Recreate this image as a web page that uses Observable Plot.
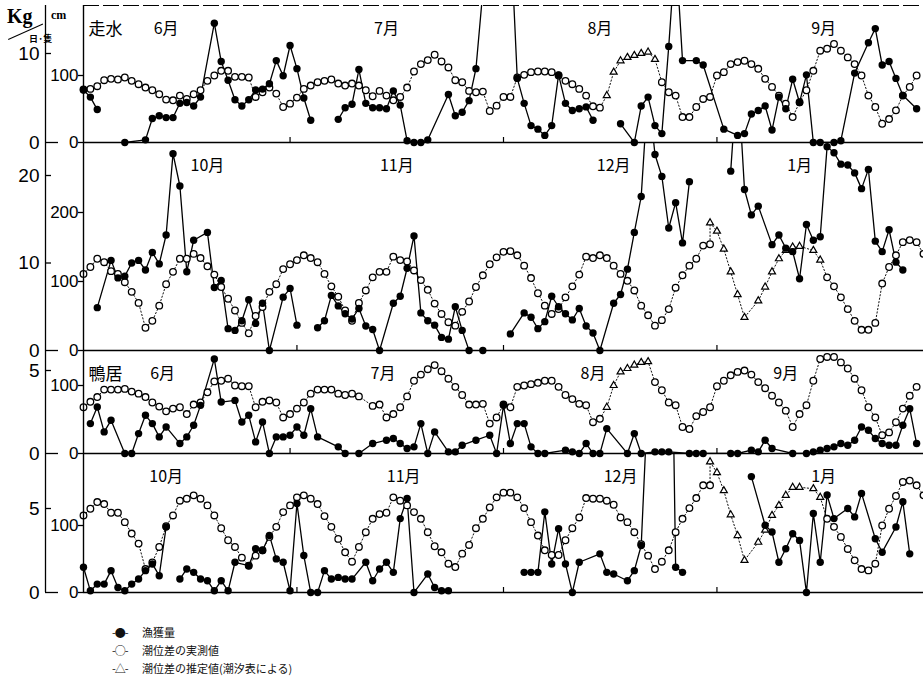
<!DOCTYPE html>
<html lang="ja">
<head>
<meta charset="utf-8">
<script src="https://cdn.jsdelivr.net/npm/d3@7"></script>
<script src="https://cdn.jsdelivr.net/npm/@observablehq/plot@0.6"></script>
<style>
html,body{margin:0;padding:0;background:#fff;}
#chart{position:relative;width:923px;height:677px;overflow:hidden;background:#fff;color:#000;}
.panel{position:absolute;left:0;}
.panel svg{overflow:visible;display:block;background:transparent;}
.lbl{position:absolute;white-space:nowrap;line-height:1;color:#000;}
.legend{position:absolute;left:112px;top:623px;font-family:"Noto Sans CJK JP",sans-serif;font-size:11px;line-height:18px;color:#111;}
</style>
</head>
<body>
<div id="chart"></div>
<script>
const _ = null;

// ---------- 走水 6月–9月 (day 0 = 6/1) ----------
const months1 = ["6月","7月","8月","9月"];
const monthX1 = [12, 44, 75, 107.5];
const monthStarts1 = [30, 61, 92];
const kgTicks1 = [0, 10];
const cmTicks1 = [0, 100];
const catch1 = [5.9,5.1,3.7,_,_,_,0,_,_,0.3,
 2.7,3.0,2.8,2.8,4.4,4.5,4.1,5.1,_,13.4,
 9.1,7.0,4.8,4.1,4.8,5.9,6.0,6.6,9.2,7.5,
 10.9,8.3,5.0,2.5,_,_,_,2.6,3.9,4.3,
 8.2,4.4,3.9,3.9,3.8,5.8,4.2,0.2,0,0,
 0.3,_,_,5.4,3.0,3.4,4.7,8.3,17,_,
 _,_,24,7.2,4.4,1.9,1.5,0.8,1.9,7.6,
 4.4,3.6,3.8,4.0,2.5,_,_,_,2.1,_,
 0,4.1,5.1,1.9,1.0,10.8,22,9.2,_,9.2,
 8.7,_,_,1.5,_,0.8,1.0,3.2,3.6,4.1,
 1.4,5.1,3.8,7.1,4.5,7.6,0,0,_,0,
 0.2,_,7.8,_,11.2,12.8,8.7,9.1,7.2,5.3,
 _,3.8];
const breaks1 = [6, 37, 78];
const tideObs1 = [79,80,84,93,95,94,97,92,87,82,
 78,72,64,63,70,65,72,78,92,100,
 107,107,98,98,97,68,75,82,73,53,
 58,67,80,85,90,92,94,88,85,88,
 85,78,69,77,70,63,68,82,106,117,
 123,131,121,112,93,90,77,75,76,47,
 55,68,68,97,101,105,106,106,105,100,
 92,87,80,70,54,52,_,_,_,_,
 _,_,_,_,90,75,70,38,38,53,
 65,68,100,105,117,120,122,117,110,95,
 83,70,58,38,60,78,107,137,140,147,
 137,127,117,100,70,53,28,35,48,70,
 83,100];
const estStart1 = 76;
const tideEst1 = [70,105,122,127,130,133,135,124];

// ---------- 走水 10月–1月 (day 0 = 10/1) ----------
const months2 = ["10月","11月","12月","1月"];
const monthX2 = [18, 45.5, 77, 104];
const monthStarts2 = [31, 61, 92];
const kgTicks2 = [0, 10, 20];
const cmTicks2 = [0, 100, 200];
const catch2 = [_,_,4.9,_,10.3,8.3,8.5,10.0,10.3,9.2,
 11.2,9.9,13.2,22.5,18.8,9.0,12.6,_,13.5,7.2,
 8.0,2.5,2.3,3.4,5.8,3.1,5.4,0,_,6.1,
 7.1,2.9,_,_,2.6,3.4,6.3,5.1,4.2,3.6,
 4.8,2.8,2.4,0,_,5.4,6.2,9.4,13.1,4.3,
 3.4,2.9,1.5,1.3,5.0,2.3,0,_,0,_,
 _,_,1.9,_,4.3,3.8,2.5,3.3,6.2,5.0,
 4.2,3.5,4.8,2.8,2.0,0,_,5.4,6.4,9.3,
 13.5,17.6,30,22.4,19.9,14.0,16.9,12.3,19.3,_,
 _,_,_,_,20.5,32,18.4,15.5,16.5,_,
 12.1,13.2,11.7,11.3,8.2,14.4,12.6,13.0,23.3,22.6,
 21.3,21.2,20.3,18.5,20.7,12.5,11.3,13.8,10.1,9.2,
 _,_,_];
const breaks2 = [34, 58, 62, 94];
const tideObs2 = [111,121,133,128,115,111,99,85,69,33,
 43,65,96,114,133,133,140,134,122,110,
 92,75,58,40,25,50,63,85,96,118,
 125,131,138,134,128,111,93,78,58,43,
 69,87,106,114,114,136,131,129,116,102,
 88,68,53,41,36,56,71,92,109,125,
 135,143,144,138,123,105,83,65,53,60,
 77,93,110,136,134,138,134,123,111,101,
 87,65,51,36,44,60,91,109,123,133,
 152,154,_,_,_,_,_,_,_,_,
 _,_,_,_,_,_,_,_,106,93,
 77,60,43,30,30,40,97,121,138,157,
 160,157,140];
const estStart2 = 91;
const tideEst2 = [185,173,147,114,81,48,_,72,92,114,133,145,150,151,_,145,131];

// ---------- 鴨居 6月–9月 ----------
const months3 = ["6月","7月","8月","9月"];
const monthX3 = [11.5, 43.5, 74, 102];
const monthStarts3 = [30, 61, 92];
const kgTicks3 = [0, 5];
const cmTicks3 = [0, 100];
const catch3 = [_,1.8,2.8,1.3,2.0,_,0,0,1.2,2.3,
 1.8,1.0,1.6,_,0.6,1.0,1.7,2.9,_,5.7,
 3.1,_,3.2,1.9,2.3,0.7,1.9,0,1.0,1.0,
 1.1,1.6,1.1,2.7,1.0,_,_,0.4,0,_,
 0,_,0.6,_,0.8,0.9,0.6,0.3,0.4,1.8,
 0,1.3,_,0.1,0.1,0.5,_,0.8,_,1.1,
 0,2.9,0.6,1.8,1.8,0.4,0,0,_,_,
 0.2,0.1,0,0.6,0,0,1.5,_,_,0,
 1.2,0,_,0.1,0.1,0.1,_,_,0,0,
 0,_,_,_,0,0,_,0.2,0.1,0.8,
 0.3,_,_,0,_,0,0.1,0.2,0.3,0.4,
 0.6,0.5,0.8,1.6,1.4,0.9,0.6,0.5,0.5,1.7,
 2.7,0.6];
const breaks3 = [];
const tideObs3 = [68,76,83,94,94,94,95,91,88,83,
 75,69,62,66,68,58,72,75,90,106,
 107,110,100,99,99,68,76,78,75,53,
 58,66,75,88,94,94,94,88,86,88,
 84,_,70,72,53,58,68,84,107,116,
 124,130,121,110,98,86,72,72,73,44,
 53,72,68,98,100,102,104,107,107,98,
 86,80,73,71,46,51,_,_,_,_,
 _,_,_,105,93,75,71,39,36,55,
 61,68,99,107,115,120,122,116,105,96,
 85,75,63,39,58,71,107,139,142,142,
 134,125,110,93,68,53,27,31,46,66,
 85,98];
const estStart3 = 76;
const tideEst3 = [68,100,120,125,130,134,135];

// ---------- 鴨居 10月–1月 ----------
const months4 = ["10月","11月","12月","1月"];
const monthX4 = [12, 46.5, 78, 107.5];
const monthStarts4 = [31, 61, 92];
const kgTicks4 = [0, 5];
const cmTicks4 = [0, 100];
const catch4 = [1.5,0.1,0.5,0.5,1.3,0.3,0.1,0.5,0.8,1.3,
 1.7,1.0,3.9,_,0.8,1.4,1.2,0.8,0.7,0.1,
 0.7,0.1,1.8,_,1.6,2.6,2.5,3.4,2.0,1.8,
 0.1,5.3,2.2,0,0,1.3,0.8,0.9,0.8,0.8,
 _,1.8,0.7,1.4,1.8,1.2,4.4,5.6,0,_,
 1.1,0.3,0.1,0.1,_,_,_,_,_,_,
 _,_,_,_,1.2,1.2,1.2,4.8,1.7,3.8,
 1.7,0,1.8,_,_,2.3,1.2,1.1,_,0.7,
 1.3,2.8,11.9,_,_,28.6,1.5,1.2,_,_,
 _,_,_,_,_,_,_,6.9,_,4.0,
 3.6,1.8,2.6,3.5,3.1,0,4.7,1.8,5.8,4.4,
 _,5.0,4.5,5.9,_,3.2,2.4,_,3.9,5.4,
 2.3,_,_];
const breaks4 = [14, 64, 85, 97];
const tideObs4 = [115,125,135,132,119,119,105,88,73,35,
 45,68,99,115,137,140,145,140,130,115,
 96,78,68,52,40,55,63,83,98,120,
 130,142,145,140,132,114,98,80,60,46,
 68,90,110,117,119,142,137,130,120,110,
 90,69,60,43,38,58,71,96,110,127,
 142,149,149,142,126,105,85,63,56,56,
 78,96,112,141,140,140,137,131,112,105,
 90,72,55,35,46,63,90,110,126,141,
 160,160,_,_,_,_,_,_,_,_,
 _,_,_,_,_,_,_,_,110,98,
 83,65,48,35,33,43,100,125,144,165,
 167,160,145];
const estStart4 = 91;
const tideEst4 = [195,179,152,116,85,48,_,75,93,115,130,145,157,157,_,155,142];

const legendLabels = ["漁獲量", "潮位差の実測値", "潮位差の推定値(潮汐表による)"];
const legendMarks = ["-●-", "-○-", "-△-"];

// ---------- layout ----------
const panels = [
  {name:"走水", months:months1, monthX:monthX1, starts:monthStarts1, catchV:catch1, breaks:breaks1, obs:tideObs1, est:tideEst1, estStart:estStart1, kgTicks:kgTicks1, cmTicks:cmTicks1, top:0, mt:5, h:137, pk:8.9, pc:0.67, topLine:true},
  {name:"", months:months2, monthX:monthX2, starts:monthStarts2, catchV:catch2, breaks:breaks2, obs:tideObs2, est:tideEst2, estStart:estStart2, kgTicks:kgTicks2, cmTicks:cmTicks2, top:142, mt:0, h:208, pk:8.75, pc:0.69},
  {name:"鴨居", months:months3, monthX:monthX3, starts:monthStarts3, catchV:catch3, breaks:breaks3, obs:tideObs3, est:tideEst3, estStart:estStart3, kgTicks:kgTicks3, cmTicks:cmTicks3, top:350, mt:0, h:103, pk:16.6, pc:0.68},
  {name:"", months:months4, monthX:monthX4, starts:monthStarts4, catchV:catch4, breaks:breaks4, obs:tideObs4, est:tideEst4, estStart:estStart4, kgTicks:kgTicks4, cmTicks:cmTicks4, top:453, mt:0, h:139, pk:16.8, pc:0.67}
];

const FONT_NUM = "Liberation Sans, Arial, sans-serif";
const FONT_JP = "Noto Sans CJK JP, sans-serif";
const chart = document.getElementById("chart");

function drawPanel(p) {
  const kgMax = p.h / p.pk;
  const f = p.pc / p.pk;
  const catchPts = p.catchV.map((v, d) => ({d, v})).filter(q => q.v != null);
  catchPts.forEach(q => q.seg = p.breaks.filter(b => b <= q.d).length);
  const obsPts = p.obs.map((v, d) => ({d, v, t: 0})).filter(q => q.v != null);
  const estPts = p.est.map((v, i) => ({d: p.estStart + i, v, t: 1})).filter(q => q.v != null);
  const tidePts = obsPts.concat(estPts).sort((a, b) => a.d - b.d || a.t - b.t);
  const monthObjs = p.months.map((m, i) => ({m, x: p.monthX[i]}));
  const kgNZ = p.kgTicks.filter(t => t !== 0);

  const marks = [
    Plot.line(tidePts, {x: "d", y: q => q.v * f, stroke: "#111", strokeWidth: 1, strokeDasharray: "1.3,2.2", clip: true}),
    Plot.line(catchPts, {x: "d", y: "v", z: "seg", stroke: "#000", strokeWidth: 1.3, clip: true}),
    Plot.dot(obsPts, {x: "d", y: q => q.v * f, r: 3.3, fill: "white", stroke: "#000", strokeWidth: 1.3}),
    Plot.dot(estPts, {x: "d", y: q => q.v * f, r: 2.6, symbol: "triangle", fill: "white", stroke: "#000", strokeWidth: 1.2}),
    Plot.dot(catchPts.filter(q => q.v <= kgMax), {x: "d", y: "v", r: 3.7, fill: "#000"}),
    Plot.ruleY([0], {stroke: "#000", strokeWidth: 1.6}),
    Plot.ruleX([0], {stroke: "#000", strokeWidth: 1.4}),
    Plot.ruleX([0], {stroke: "#000", strokeWidth: 1.3, dx: -38}),
    Plot.tickX(p.starts, {x: d => d, stroke: "#000", strokeWidth: 1.2, insetTop: p.h - 5}),
    Plot.tickY(kgNZ, {y: d => d, stroke: "#000", strokeWidth: 1.3, insetLeft: -38, insetRight: 872}),
    Plot.tickY([0], {y: d => d, stroke: "#000", strokeWidth: 1.3, insetLeft: -38, insetRight: 865}),
    Plot.tickY(p.cmTicks, {y: d => d * f, stroke: "#000", strokeWidth: 1.3, insetLeft: -5, insetRight: 840}),
    Plot.text(p.kgTicks, {y: d => d, text: d => String(d), frameAnchor: "left", dx: -44, textAnchor: "end", fontSize: 19, fontFamily: FONT_NUM, fill: "#000"}),
    Plot.text(p.cmTicks, {y: d => d * f, text: d => String(d), frameAnchor: "left", dx: -5, textAnchor: "end", fontSize: 17, fontFamily: FONT_NUM, fill: "#000"}),
    Plot.text(monthObjs, {x: "x", text: "m", frameAnchor: "top", dy: 17, fontSize: 16, fontFamily: FONT_JP, fill: "#000"})
  ];
  if (p.name) marks.push(Plot.text([p.name], {frameAnchor: "top-left", dx: 5, dy: 17, textAnchor: "start", fontSize: 17, fontFamily: FONT_JP, fill: "#000"}));
  if (p.topLine) marks.push(Plot.ruleY([kgMax], {stroke: "#000", strokeWidth: 1.2, strokeDasharray: "16,4"}));

  const svg = Plot.plot({
    width: 923,
    height: p.mt + p.h,
    marginLeft: 83, marginRight: 0, marginTop: p.mt, marginBottom: 0,
    x: {domain: [0, 122], axis: null},
    y: {domain: [0, kgMax], axis: null},
    style: {overflow: "visible", background: "transparent", fontFamily: FONT_NUM},
    marks
  });
  const wrap = document.createElement("div");
  wrap.className = "panel";
  wrap.style.top = p.top + "px";
  wrap.appendChild(svg);
  chart.appendChild(wrap);
}
panels.forEach(drawPanel);

// axis captions (top-left)
function label(text, left, top, css) {
  const el = document.createElement("div");
  el.className = "lbl";
  el.textContent = text;
  el.style.left = left + "px";
  el.style.top = top + "px";
  Object.assign(el.style, css || {});
  chart.appendChild(el);
  return el;
}
label("Kg", 7, 6, {fontFamily: "Liberation Serif, serif", fontWeight: "bold", fontSize: "20px"});
label("cm", 51, 9, {fontFamily: "Liberation Serif, serif", fontWeight: "bold", fontSize: "12px"});
label("日·隻", 29, 34, {fontFamily: FONT_JP, fontWeight: "bold", fontSize: "9px"});
const slash = document.createElement("div");
Object.assign(slash.style, {position: "absolute", left: "8px", top: "39px", width: "38px", borderTop: "1.5px solid #000", transform: "rotate(-24deg)", transformOrigin: "0 0"});
chart.appendChild(slash);

// legend
const lg = document.createElement("div");
lg.className = "legend";
legendLabels.forEach((t, i) => {
  const row = document.createElement("div");
  const m = document.createElement("span");
  m.textContent = legendMarks[i];
  m.style.display = "inline-block";
  m.style.width = "30px";
  m.style.letterSpacing = "-1px";
  row.appendChild(m);
  row.appendChild(document.createTextNode(t));
  lg.appendChild(row);
});
chart.appendChild(lg);
</script>
</body>
</html>
